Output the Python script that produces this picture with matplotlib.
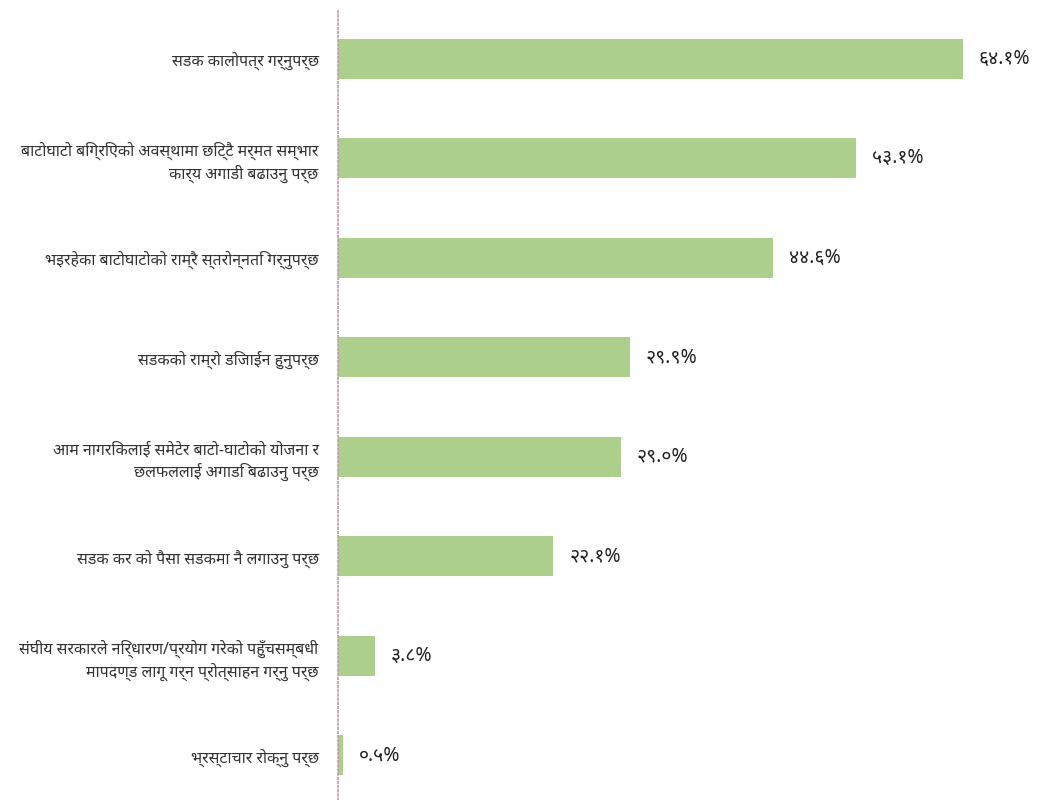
import matplotlib
matplotlib.use("Agg")
import matplotlib.pyplot as plt

categories = [
    "सडक कालोपत्र गर्नुपर्छ",
    "बाटोघाटो बिग्रिएको अवस्थामा छिट्टै मर्मत सम्भार\nकार्य अगाडी बढाउनु पर्छ",
    "भइरहेका बाटोघाटोको राम्रै स्तरोन्नति गर्नुपर्छ",
    "सडकको राम्रो डिजाईन हुनुपर्छ",
    "आम नागरिकलाई समेटेर बाटो-घाटोको योजना र\nछलफललाई अगाडि बढाउनु पर्छ",
    "सडक कर को पैसा सडकमा नै लगाउनु पर्छ",
    "संघीय सरकारले निर्धारण/प्रयोग गरेको पहुँचसम्बधी\nमापदण्ड लागू गर्न प्रोत्साहन गर्नु पर्छ",
    "भ्रस्टाचार रोक्नु पर्छ",
]
values = [64.1, 53.1, 44.6, 29.9, 29.0, 22.1, 3.8, 0.5]
value_labels = ["६४.१%", "५३.१%", "४४.६%", "२९.९%", "२९.०%", "२२.१%", "३.८%", "०.५%"]

plt.rcParams["font.family"] = ["Noto Sans", "DejaVu Sans"]

fig = plt.figure(figsize=(10.4, 8), dpi=100)
ax = fig.add_axes([0.325, 0.0, 0.675, 0.98875])

ypos = list(range(len(values)))
ax.barh(ypos, values, height=0.40, color="#acd08c", zorder=2)

for y, v, lab in zip(ypos, values, value_labels):
    ax.annotate(lab, xy=(v, y), xytext=(11.5, 0), textcoords="offset points",
                ha="left", va="center", fontsize=14, color="#222222")

ax.set_xlim(0, 72)
ax.set_ylim(7.45, -0.5)
ax.set_yticks(ypos)
ax.set_yticklabels(categories, fontsize=11.5, color="#333333", ha="right",
                   linespacing=1.3)
ax.tick_params(axis="y", length=0, pad=14)
ax.set_xticks([])

for side in ["top", "right", "bottom"]:
    ax.spines[side].set_visible(False)
ax.spines["left"].set_linestyle((0, (1, 1.5)))
ax.spines["left"].set_color("#c49aae")
ax.spines["left"].set_linewidth(1.2)

fig.savefig("out.png", dpi=100)
